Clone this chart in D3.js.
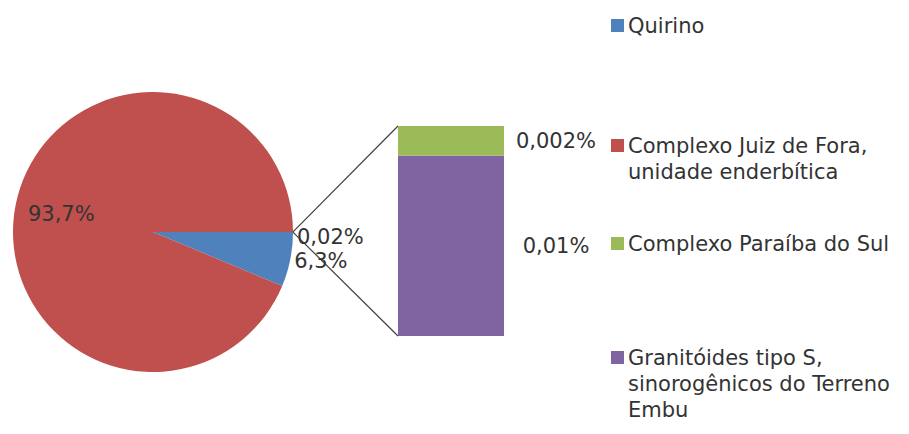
<!DOCTYPE html>
<html>
<head>
<meta charset="utf-8">
<script src="https://cdn.jsdelivr.net/npm/d3@7/dist/d3.min.js"></script>
<style>
  html, body { margin: 0; padding: 0; background: #fff; }
  svg { display: block; }
  text { font-family: "DejaVu Sans", sans-serif; font-size: 21px; fill: #333; }
</style>
</head>
<body>
<svg id="chart" width="909" height="434"></svg>
<script>
// Units and their share of the mapped area (%)
const categories = [
  "Quirino",
  "Complexo Juiz de Fora, unidade enderbítica",
  "Complexo Paraíba do Sul",
  "Granitóides tipo S, sinorogênicos do Terreno Embu"
];
const sharePercent = [6.283, 93.7, 0.0024, 0.0146];
const labelDecimals = [1, 1, 3, 2];
const inSecondaryBar = [false, false, true, true];
const otherDecimals = 2;
const colors = ["#4F81BD", "#C0504D", "#9BBB59", "#8064A2"];

const svg = d3.select("#chart");

// layout
const cx = 153, cy = 232, R = 140;
const bar = { x0: 398, x1: 504, top: 126, bottom: 336 };
const legend = { xSquare: 611, xText: 628, size: 13, lineH: 26, tops: [19, 139, 237, 351], wrap: 285 };

const ptBR = d3.formatLocale({ decimal: ",", thousands: ".", grouping: [3], currency: ["", ""] });
const pct = (v, dec) => ptBR.format("." + dec + "f")(v) + "%";

const items = categories.map((name, i) => ({
  name, value: sharePercent[i], dec: labelDecimals[i], color: colors[i], inBar: inSecondaryBar[i]
}));
const pieItems = items.filter(d => !d.inBar);
const barItems = items.filter(d => d.inBar);
const otherTotal = d3.sum(barItems, d => d.value);
const total = d3.sum(items, d => d.value);

// Main pie: the aggregated "other" slice faces the bar at 3 o'clock
const otherAngle = 2 * Math.PI * otherTotal / total;
const start = Math.PI / 2 - otherAngle / 2;
const pieData = [{ name: "other", value: otherTotal, dec: otherDecimals, color: "#fff", other: true }].concat(pieItems);
const arcs = d3.pie().sort(null).value(d => d.value)
  .startAngle(start).endAngle(start + 2 * Math.PI)(pieData);

const arc = d3.arc().innerRadius(0).outerRadius(R);
const gPie = svg.append("g").attr("transform", `translate(${cx},${cy})`);
gPie.selectAll("path").data(arcs.filter(a => !a.data.other)).join("path")
  .attr("d", arc).attr("fill", a => a.data.color);

const polar = (ang, r) => [Math.sin(ang) * r, -Math.cos(ang) * r];

// Connector lines from the "other" slice to the bar corners
const otherArc = arcs[0];
const pA = polar(otherArc.startAngle, R), pB = polar(otherArc.endAngle, R);
svg.append("line").attr("x1", cx + pA[0]).attr("y1", cy + pA[1])
  .attr("x2", bar.x0).attr("y2", bar.top).attr("stroke", "#404040").attr("stroke-width", 1.2);
svg.append("line").attr("x1", cx + pB[0]).attr("y1", cy + pB[1])
  .attr("x2", bar.x0).attr("y2", bar.bottom).attr("stroke", "#404040").attr("stroke-width", 1.2);

// Pie labels
arcs.forEach(a => {
  const mid = (a.startAngle + a.endAngle) / 2;
  const big = a.endAngle - a.startAngle > Math.PI;
  let x, y, anchor;
  if (big) {
    const p = polar(mid, R * 0.69);
    x = cx + p[0] + 3; y = cy + p[1]; anchor = "middle";
  } else {
    const p = polar(mid, R + 4);
    x = cx + p[0]; y = cy + p[1] + (a.data.other ? 4 : 0); anchor = "start";
  }
  svg.append("text").attr("x", x).attr("y", y).attr("dy", "0.36em")
    .attr("text-anchor", anchor).text(pct(a.data.value, a.data.dec));
});

// Secondary stacked bar
const yBar = d3.scaleLinear().domain([0, otherTotal]).range([bar.bottom, bar.top]);
let acc = 0;
barItems.slice().reverse().forEach(d => {
  const y0 = acc, y1 = acc + d.value;
  acc = y1;
  svg.append("rect").attr("x", bar.x0).attr("width", bar.x1 - bar.x0)
    .attr("y", yBar(y1)).attr("height", yBar(y0) - yBar(y1)).attr("fill", d.color);
  svg.append("text").attr("x", bar.x1 + 52).attr("y", (yBar(y0) + yBar(y1)) / 2)
    .attr("dy", "0.36em").attr("text-anchor", "middle").text(pct(d.value, d.dec));
});

// Legend with wrapped entries
function wrapLines(str, maxW) {
  const probe = svg.append("text").attr("x", -9999).attr("y", -9999);
  const words = str.split(" ");
  const lines = [];
  let line = words[0];
  for (let i = 1; i < words.length; i++) {
    const test = line + " " + words[i];
    probe.text(test);
    if (probe.node().getComputedTextLength() > maxW) { lines.push(line); line = words[i]; }
    else line = test;
  }
  lines.push(line);
  probe.remove();
  return lines;
}
items.forEach((d, i) => {
  const top = legend.tops[i];
  svg.append("rect").attr("x", legend.xSquare).attr("y", top)
    .attr("width", legend.size).attr("height", legend.size).attr("fill", d.color);
  const t = svg.append("text").attr("x", legend.xText).attr("y", top + legend.size / 2 + 7.5);
  wrapLines(d.name, legend.wrap).forEach((ln, k) => {
    t.append("tspan").attr("x", legend.xText).attr("dy", k === 0 ? 0 : legend.lineH).text(ln);
  });
});
</script>
</body>
</html>
